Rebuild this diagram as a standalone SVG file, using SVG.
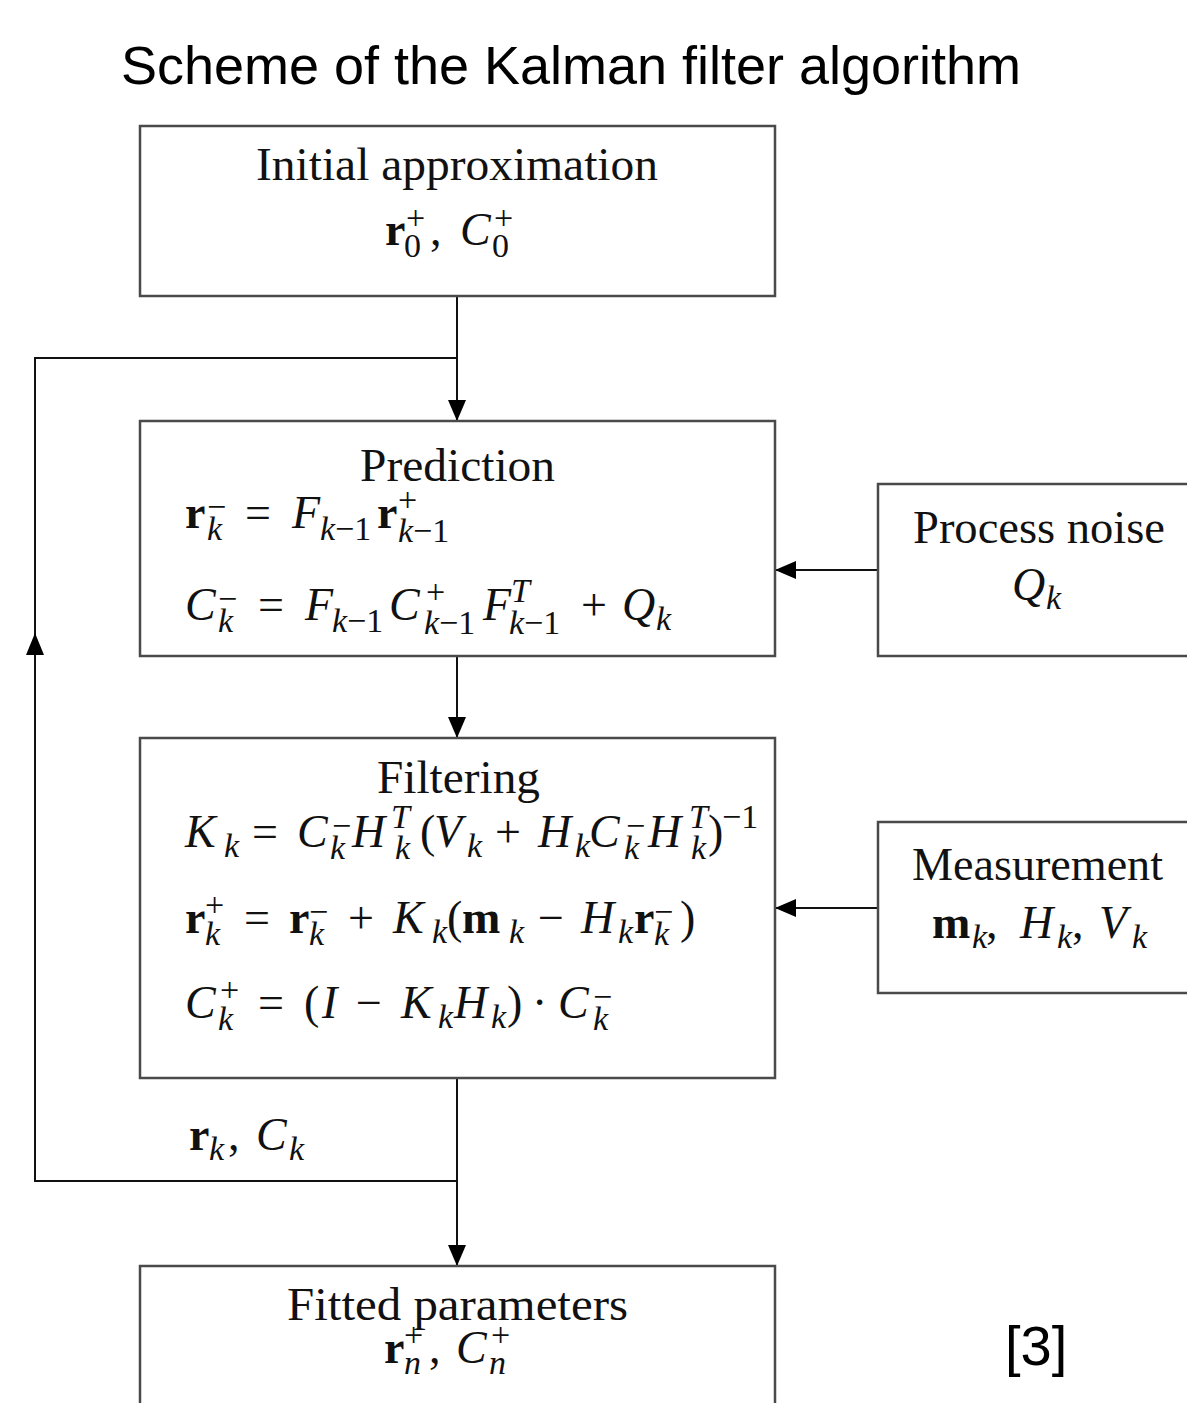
<svg xmlns="http://www.w3.org/2000/svg" width="1187" height="1403" viewBox="0 0 1187 1403">
<defs>
<style>
.box{fill:#fff;stroke:#4a4a4a;stroke-width:2.5}
.con{fill:none;stroke:#111;stroke-width:2}
.ah{fill:#000}
.t{font-family:"Liberation Serif","DejaVu Serif",serif;fill:#111;font-size:46px}
.s{font-size:34px}
.i{font-style:italic}
.b{font-weight:bold}
.sans{font-family:"Liberation Sans",Arial,sans-serif;fill:#000}
</style>
<marker id="arr" markerUnits="userSpaceOnUse" markerWidth="21" markerHeight="18" refX="21" refY="9" orient="auto">
<path d="M0,0 L21,9 L0,18 z" fill="#000"/>
</marker>
</defs>
<rect width="1187" height="1403" fill="#fff"/>

<text class="sans" x="121" y="84" font-size="54" textLength="900" lengthAdjust="spacingAndGlyphs">Scheme of the Kalman filter algorithm</text>

<g id="connectors">
<path class="con" d="M457,296 V421" marker-end="url(#arr)"/>
<path class="con" d="M457,1181 H35 V358 H457"/>
<polygon class="ah" points="35,633 26,655 44,655"/>
<path class="con" d="M457,656 V738" marker-end="url(#arr)"/>
<path class="con" d="M878,570 H775" marker-end="url(#arr)"/>
<path class="con" d="M878,908 H775" marker-end="url(#arr)"/>
<path class="con" d="M457,1078 V1266" marker-end="url(#arr)"/>
</g>

<g id="node-initial">
<rect class="box" x="140" y="126" width="635" height="170"/>
<text class="t" x="256" y="180" textLength="402" lengthAdjust="spacingAndGlyphs">Initial approximation</text>
<text class="t"><tspan class="b" x="385" y="245">r</tspan><tspan class="s" x="406" y="229">+</tspan><tspan class="s" x="404" y="257">0</tspan><tspan x="430" y="245">,</tspan><tspan class="i" x="460" y="245">C</tspan><tspan class="s" x="494" y="229">+</tspan><tspan class="s" x="492" y="257">0</tspan></text>
</g>

<g id="node-prediction">
<rect class="box" x="140" y="421" width="635" height="235"/>
<text class="t" x="360" y="481" textLength="195" lengthAdjust="spacingAndGlyphs">Prediction</text>
<text class="t"><tspan class="b" x="185" y="528">r</tspan><tspan class="s" x="207" y="518">−</tspan><tspan class="s i" x="207" y="540">k</tspan><tspan x="245" y="528">=</tspan><tspan class="i" x="292" y="528">F</tspan><tspan class="s" x="320" y="540"><tspan class="i">k</tspan>−1</tspan><tspan class="b" x="377" y="528">r</tspan><tspan class="s" x="398" y="511">+</tspan><tspan class="s" x="398" y="542"><tspan class="i">k</tspan>−1</tspan></text>
<text class="t"><tspan class="i" x="185" y="620">C</tspan><tspan class="s" x="218" y="610">−</tspan><tspan class="s i" x="218" y="632">k</tspan><tspan x="258" y="620">=</tspan><tspan class="i" x="305" y="620">F</tspan><tspan class="s" x="332" y="632"><tspan class="i">k</tspan>−1</tspan><tspan class="i" x="389" y="620">C</tspan><tspan class="s" x="426" y="603">+</tspan><tspan class="s" x="424" y="634"><tspan class="i">k</tspan>−1</tspan><tspan class="i" x="483" y="620">F</tspan><tspan class="s i" x="511" y="602">T</tspan><tspan class="s" x="509" y="634"><tspan class="i">k</tspan>−1</tspan><tspan x="581" y="620">+</tspan><tspan class="i" x="622" y="620">Q</tspan><tspan class="s i" x="656" y="630">k</tspan></text>
</g>

<g id="node-process-noise">
<rect class="box" x="878" y="484" width="330" height="172"/>
<text class="t" x="913" y="543" textLength="252" lengthAdjust="spacingAndGlyphs">Process noise</text>
<text class="t"><tspan class="i" x="1012" y="600">Q</tspan><tspan class="s i" x="1046" y="609">k</tspan></text>
</g>

<g id="node-filtering">
<rect class="box" x="140" y="738" width="635" height="340"/>
<text class="t" x="377" y="793" textLength="163" lengthAdjust="spacingAndGlyphs">Filtering</text>
<text class="t"><tspan class="i" x="185" y="847">K</tspan><tspan class="s i" x="224" y="857">k</tspan><tspan x="252" y="847">=</tspan><tspan class="i" x="297" y="847">C</tspan><tspan class="s" x="332" y="837">−</tspan><tspan class="s i" x="330" y="859">k</tspan><tspan class="i" x="352" y="847">H</tspan><tspan class="s i" x="391" y="828">T</tspan><tspan class="s i" x="395" y="859">k</tspan><tspan x="420" y="847">(</tspan><tspan class="i" x="434" y="847">V</tspan><tspan class="s i" x="467" y="857">k</tspan><tspan x="495" y="847">+</tspan><tspan class="i" x="538" y="847">H</tspan><tspan class="s i" x="575" y="857">k</tspan><tspan class="i" x="589" y="847">C</tspan><tspan class="s" x="626" y="837">−</tspan><tspan class="s i" x="624" y="859">k</tspan><tspan class="i" x="648" y="847">H</tspan><tspan class="s i" x="689" y="828">T</tspan><tspan class="s i" x="691" y="859">k</tspan><tspan x="708" y="847">)</tspan><tspan class="s" x="722" y="828">−1</tspan></text>
<text class="t"><tspan class="b" x="185" y="933">r</tspan><tspan class="s" x="205" y="916">+</tspan><tspan class="s i" x="205" y="945">k</tspan><tspan x="244" y="933">=</tspan><tspan class="b" x="289" y="933">r</tspan><tspan class="s" x="309" y="923">−</tspan><tspan class="s i" x="309" y="945">k</tspan><tspan x="348" y="933">+</tspan><tspan class="i" x="393" y="933">K</tspan><tspan class="s i" x="432" y="943">k</tspan><tspan x="447" y="933">(</tspan><tspan class="b" x="462" y="933">m</tspan><tspan class="s i" x="509" y="943">k</tspan><tspan x="538" y="933">−</tspan><tspan class="i" x="581" y="933">H</tspan><tspan class="s i" x="618" y="943">k</tspan><tspan class="b" x="634" y="933">r</tspan><tspan class="s" x="654" y="923">−</tspan><tspan class="s i" x="654" y="945">k</tspan><tspan x="680" y="933">)</tspan></text>
<text class="t"><tspan class="i" x="185" y="1018">C</tspan><tspan class="s" x="220" y="1001">+</tspan><tspan class="s i" x="218" y="1030">k</tspan><tspan x="258" y="1018">=</tspan><tspan x="304" y="1018">(</tspan><tspan class="i" x="322" y="1018">I</tspan><tspan x="356" y="1018">−</tspan><tspan class="i" x="401" y="1018">K</tspan><tspan class="s i" x="438" y="1028">k</tspan><tspan class="i" x="454" y="1018">H</tspan><tspan class="s i" x="491" y="1028">k</tspan><tspan x="507" y="1018">)</tspan><tspan x="532" y="1018">·</tspan><tspan class="i" x="558" y="1018">C</tspan><tspan class="s" x="593" y="1008">−</tspan><tspan class="s i" x="593" y="1030">k</tspan></text>
</g>

<g id="node-measurement">
<rect class="box" x="878" y="822" width="330" height="171"/>
<text class="t" x="912" y="880" textLength="251" lengthAdjust="spacingAndGlyphs">Measurement</text>
<text class="t"><tspan class="b" x="932" y="938">m</tspan><tspan class="s i" x="972" y="948">k</tspan><tspan x="986" y="938">,</tspan><tspan class="i" x="1020" y="938">H</tspan><tspan class="s i" x="1057" y="948">k</tspan><tspan x="1072" y="938">,</tspan><tspan class="i" x="1099" y="938">V</tspan><tspan class="s i" x="1132" y="948">k</tspan></text>
</g>

<g id="label-rk">
<text class="t"><tspan class="b" x="189" y="1150">r</tspan><tspan class="s i" x="209" y="1160">k</tspan><tspan x="228" y="1150">,</tspan><tspan class="i" x="256" y="1150">C</tspan><tspan class="s i" x="289" y="1160">k</tspan></text>
</g>

<g id="node-fitted">
<rect class="box" x="140" y="1266" width="635" height="200"/>
<text class="t" x="287" y="1320" textLength="341" lengthAdjust="spacingAndGlyphs">Fitted parameters</text>
<text class="t"><tspan class="b" x="384" y="1363">r</tspan><tspan class="s" x="404" y="1346">+</tspan><tspan class="s i" x="404" y="1374">n</tspan><tspan x="429" y="1363">,</tspan><tspan class="i" x="456" y="1363">C</tspan><tspan class="s" x="491" y="1346">+</tspan><tspan class="s i" x="489" y="1374">n</tspan></text>
</g>

<text class="sans" x="1005" y="1365" font-size="56">[3]</text>
</svg>
